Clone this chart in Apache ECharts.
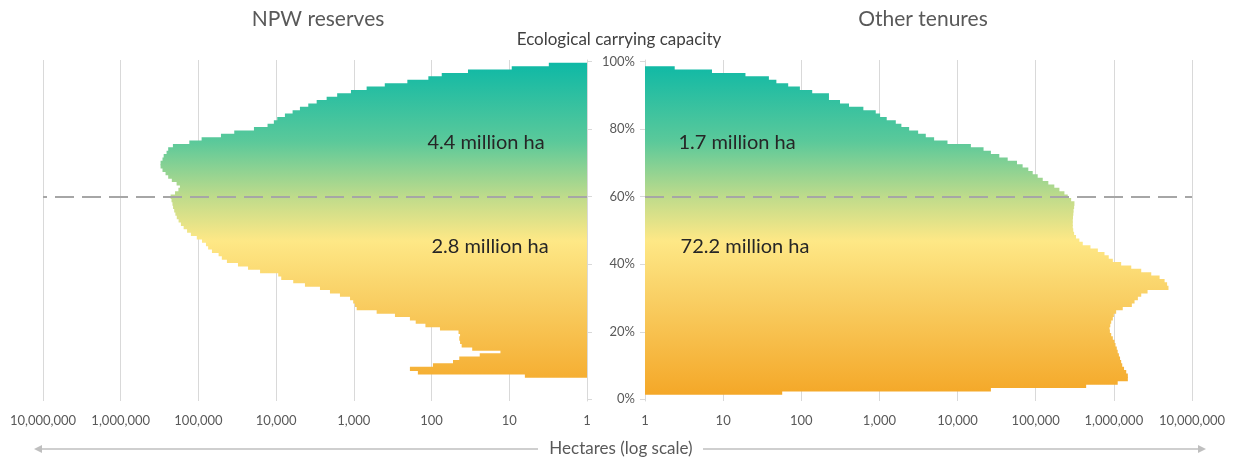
<!DOCTYPE html>
<html>
<head>
<meta charset="utf-8">
<title>Ecological carrying capacity by tenure</title>
<script src="https://cdn.jsdelivr.net/npm/echarts@6/dist/echarts.min.js"></script>
<style>
  html, body { margin: 0; padding: 0; background: #ffffff; }
  #chart { width: 1236px; height: 462px; }
</style>
</head>
<body>
<div id="chart"></div>
<script>
// Ecological carrying capacity classes, 0 % … 100 % in 1 % steps
const capacityPct = Array.from({ length: 101 }, (_, i) => i);
const capacityTicks = [0, 20, 40, 60, 80, 100];
const thresholdPct = 60;

// Hectares in each capacity class (index = capacity %), NPW reserves
const npwHa = [
  0, 0, 0, 0, 0, 0, 0, 6.3, 150, 190,
  96, 53, 44, 24, 13, 30, 41, 43, 44, 43,
  45, 78, 120, 160, 190, 296, 509, 920, 968, 1020,
  1120, 1510, 2030, 2730, 4260, 6030, 8600, 9400, 16100, 23000,
  31000, 43000, 50000, 55000, 67000, 75000, 80000, 90000, 105000, 125000,
  140000, 155000, 168000, 180000, 190000, 198000, 205000, 212000, 216000, 222000,
  228000, 200000, 181000, 173000, 191000, 220000, 245000, 265000, 290000, 307000,
  307000, 290000, 280000, 257000, 245000, 213000, 131000, 91000, 51300, 34600,
  19300, 12900, 10700, 9680, 7710, 6140, 4940, 3860, 3010, 2240,
  1640, 1090, 685, 400, 205, 110, 74, 34, 9.3, 3.1,
  0
];

// Hectares in each capacity class (index = capacity %), other tenures
const otherHa = [
  0, 0, 57, 26700, 442000, 1120000, 1510000, 1510000, 1440000, 1350000,
  1280000, 1240000, 1200000, 1160000, 1120000, 1090000, 1050000, 1020000, 970000, 925000,
  890000, 880000, 900000, 925000, 970000, 1000000, 1070000, 1300000, 1700000, 1840000,
  2030000, 2240000, 2700000, 5000000, 4800000, 4460000, 3850000, 3010000, 2240000, 1670000,
  1240000, 970000, 860000, 759000, 624000, 502000, 400000, 362000, 328000, 310000,
  302000, 298000, 298000, 298000, 300000, 303000, 305000, 310000, 313000, 284000,
  257000, 233000, 201000, 173000, 145000, 123000, 106000, 91500, 80400, 68000,
  57600, 43800, 34200, 26700, 21500, 14800, 7430, 5010, 3920, 3130,
  2400, 1910, 1620, 1240, 1020, 897, 623, 408, 313, 226,
  226, 138, 96, 68, 48, 38.5, 19.3, 7.2, 2.4, 0,
  0
];

// Area totals either side of the 60 % threshold
const panelTitles = ['NPW reserves', 'Other tenures'];
const totalsAbove = ['4.4 million ha', '1.7 million ha'];
const totalsBelow = ['2.8 million ha', '72.2 million ha'];

const FONT = 'Lato, "Open Sans", "Liberation Sans", sans-serif';
const GRID_TOP = 60, GRID_BOTTOM = 401;

// Teal → yellow → orange, running down the full plot height
const capacityGradient = {
  type: 'linear', x: 0, y: GRID_TOP, x2: 0, y2: GRID_BOTTOM, global: true,
  colorStops: [
    { offset: 0.00, color: '#0bb8a6' },
    { offset: 0.24, color: '#5bc99a' },
    { offset: 0.40, color: '#bedb8b' },
    { offset: 0.53, color: '#fee886' },
    { offset: 0.70, color: '#f9cf64' },
    { offset: 1.00, color: '#f4a524' }
  ]
};

const tickEvery20 = (i) => capacityTicks.indexOf(capacityPct[i]) >= 0;
const haLabel = (v) => Math.round(v).toLocaleString('en-US');
const toSeries = (arr) => arr.map((v) => (v > 0 ? v : null));

const xAxisBase = {
  type: 'log', logBase: 10, min: 1, max: 10000000, splitNumber: 7,
  axisLine: { show: false },
  axisTick: { show: false },
  splitLine: { show: true, lineStyle: { color: '#d9d9d9', width: 1 } },
  axisLabel: {
    formatter: haLabel, color: '#595959', fontSize: 13, fontFamily: FONT,
    margin: 13, showMinLabel: true, showMaxLabel: true
  }
};

const yAxisBase = {
  type: 'category', data: capacityPct, boundaryGap: true,
  axisLine: { show: true, lineStyle: { color: '#d9d9d9' } },
  axisTick: { show: true, alignWithLabel: true, interval: tickEvery20, length: 5, lineStyle: { color: '#d9d9d9' } },
  splitLine: { show: false }
};

const thresholdLine = {
  silent: true,
  symbol: ['none', 'none'],
  label: { show: false },
  lineStyle: { color: '#a6a6a6', type: [19, 8], width: 2.2 },
  data: [{ yAxis: String(thresholdPct) }]
};

// Bars slightly taller than their band so neighbouring classes overlap
// instead of leaving anti-aliased seams; the gradient is global, so the
// overlap is invisible.
const barBase = {
  type: 'bar',
  barWidth: '130%',
  silent: true,
  itemStyle: { color: capacityGradient, borderWidth: 0 }
};

const textEl = (x, y, text, size, fill) => ({
  type: 'text', x: x, y: y, z: 100,
  style: { text: text, fill: fill, font: size + 'px ' + FONT, align: 'center', verticalAlign: 'middle' }
});

const chart = echarts.init(document.getElementById('chart'), null, { renderer: 'canvas' });

chart.setOption({
  animation: false,
  backgroundColor: '#ffffff',
  textStyle: { fontFamily: FONT },
  grid: [
    { left: 43, right: 649, top: GRID_TOP, bottom: 462 - GRID_BOTTOM },
    { left: 645, right: 44, top: GRID_TOP, bottom: 462 - GRID_BOTTOM }
  ],
  xAxis: [
    Object.assign({}, xAxisBase, { gridIndex: 0, inverse: true }),
    Object.assign({}, xAxisBase, { gridIndex: 1 })
  ],
  yAxis: [
    Object.assign({}, yAxisBase, {
      gridIndex: 0, position: 'right',
      axisLabel: { show: false, interval: tickEvery20 }
    }),
    Object.assign({}, yAxisBase, {
      gridIndex: 1, position: 'left',
      axisLabel: {
        show: true, interval: tickEvery20, formatter: (v) => v + '%',
        color: '#595959', fontSize: 13, fontFamily: FONT, margin: 10
      }
    })
  ],
  series: [
    Object.assign({}, barBase, {
      name: panelTitles[0], xAxisIndex: 0, yAxisIndex: 0,
      data: toSeries(npwHa), markLine: thresholdLine
    }),
    Object.assign({}, barBase, {
      name: panelTitles[1], xAxisIndex: 1, yAxisIndex: 1,
      data: toSeries(otherHa), markLine: thresholdLine
    })
  ],
  graphic: [
    textEl(318, 19, panelTitles[0], 21, '#595959'),
    textEl(923, 19, panelTitles[1], 21, '#595959'),
    textEl(619, 40, 'Ecological carrying capacity', 17, '#404040'),

    textEl(486, 143, totalsAbove[0], 20, '#262626'),
    textEl(490, 247, totalsBelow[0], 20, '#262626'),
    textEl(737, 143, totalsAbove[1], 20, '#262626'),
    textEl(745, 247, totalsBelow[1], 20, '#262626'),

    // Shared x-axis caption with a double-headed arrow
    textEl(621, 449, 'Hectares (log scale)', 17, '#595959'),
    { type: 'line', z: 100, shape: { x1: 41, y1: 449, x2: 538, y2: 449 }, style: { stroke: '#bfbfbf', lineWidth: 1.5 } },
    { type: 'line', z: 100, shape: { x1: 703, y1: 449, x2: 1199, y2: 449 }, style: { stroke: '#bfbfbf', lineWidth: 1.5 } },
    { type: 'polygon', z: 100, shape: { points: [[34, 449], [42, 445], [42, 453]] }, style: { fill: '#bfbfbf' } },
    { type: 'polygon', z: 100, shape: { points: [[1206, 449], [1198, 445], [1198, 453]] }, style: { fill: '#bfbfbf' } }
  ]
});
</script>
</body>
</html>
